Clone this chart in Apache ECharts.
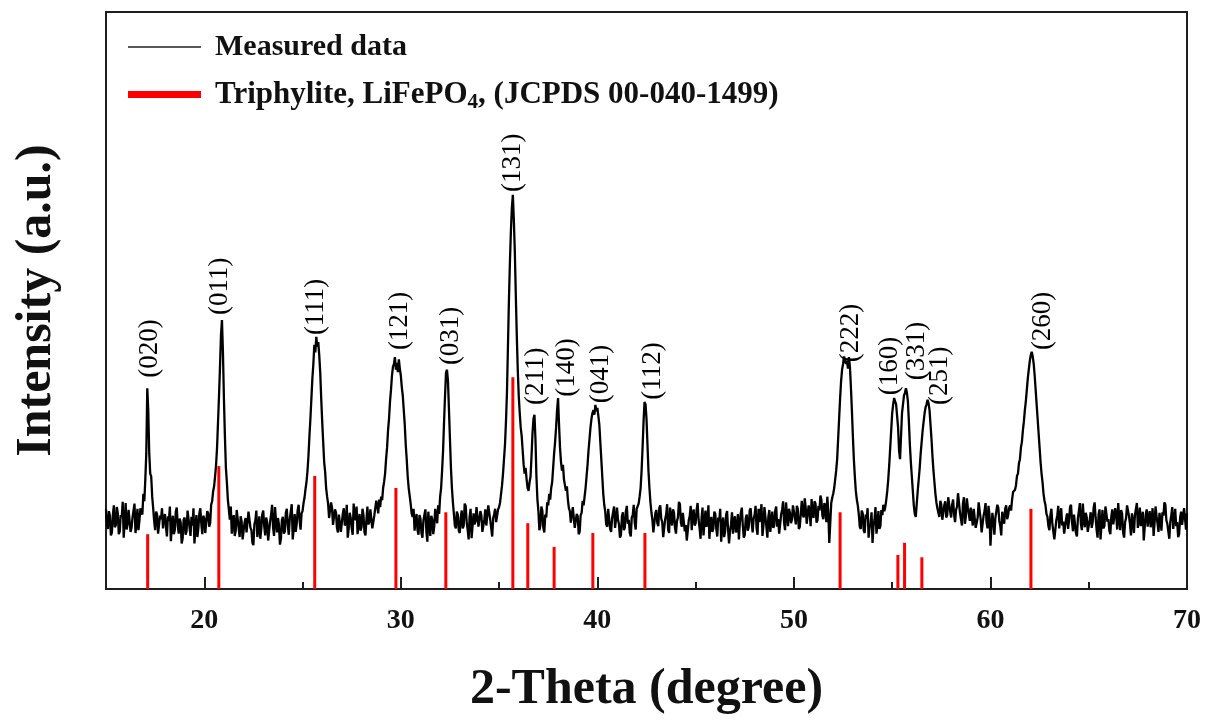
<!DOCTYPE html>
<html>
<head>
<meta charset="utf-8">
<script src="https://cdn.jsdelivr.net/npm/echarts@6/dist/echarts.min.js"></script>
<style>
html,body{margin:0;padding:0;background:#fff;}
#chart{width:1206px;height:720px;}
</style>
</head>
<body>
<div id="chart"></div>
<script>
// ---- data ----
const thetaStart = 15.0;
const thetaStep = 0.05;
// measured intensity (a.u.), 15.00 .. 70.00 deg, step 0.05 (20 values per degree)
const intensity = [
  13.8,11.2,10.4,13.5,12.6,9.3,9.8,12.9,14.5,10.7,11.1,14.2,13.2,9.5,10.0,12.8,12.4,15.1,8.9,11.6,          // 15
  14.9,10.3,11.3,13.7,13.5,9.9,10.6,12.4,12.2,14.8,9.7,11.5,13.9,10.2,11.8,14.0,14.2,12.9,16.5,15.2,         // 16
  19.0,23.5,34.8,31.0,23.5,20.0,19.5,16.0,14.0,11.8,10.2,13.4,12.9,9.6,9.4,12.7,12.1,14.0,10.5,12.3,         // 17
  13.0,10.8,9.1,12.6,11.8,14.3,8.3,10.9,12.7,9.5,10.2,13.4,14.1,11.0,9.6,12.2,11.5,7.9,8.8,12.0,             // 18
  12.4,9.4,10.0,13.6,13.3,10.7,9.2,12.5,11.0,14.0,7.9,10.6,12.8,9.0,10.6,13.1,14.0,11.3,9.5,12.7,            // 19
  12.2,9.7,9.9,13.5,13.1,10.8,11.4,14.6,15.2,16.9,17.8,19.5,21.5,24.5,29.0,33.5,38.5,44.0,46.6,41.0,         // 20
  33.0,26.5,21.0,18.5,15.5,13.8,12.0,14.3,9.6,11.9,12.8,9.2,10.1,13.7,13.4,10.5,9.0,12.6,11.7,8.6,           // 21
  8.4,11.5,12.3,9.8,9.5,13.4,13.1,10.6,10.2,8.0,7.6,11.2,11.9,13.6,9.0,10.3,12.6,8.7,10.4,12.9,              // 22
  13.6,10.9,9.3,12.4,11.5,8.4,8.1,11.7,12.9,14.6,10.7,9.2,14.2,11.8,9.8,12.3,11.1,7.7,8.7,12.0,             // 23
  12.5,9.6,10.0,13.2,13.9,11.0,9.4,12.1,11.8,14.7,8.6,10.4,13.0,9.9,11.2,13.6,14.6,11.9,10.3,13.1,          // 24
  13.5,14.9,15.8,17.3,18.5,20.4,23.0,26.5,29.5,33.0,36.5,39.0,42.3,41.0,43.7,42.0,42.8,40.5,37.5,33.0,      // 25
  29.0,25.5,22.0,20.3,17.5,16.0,14.8,12.3,12.2,15.0,14.1,11.1,10.9,13.8,13.3,10.6,9.8,12.9,12.6,9.9,        // 26
  10.2,13.1,14.0,11.0,11.4,14.6,8.9,10.5,13.2,12.3,10.6,9.4,14.8,12.7,11.9,14.3,9.5,11.4,13.0,10.1,         // 27
  10.7,13.9,12.8,9.9,9.3,12.0,14.3,11.2,11.6,13.8,13.5,10.5,10.4,12.7,13.0,15.3,14.4,13.1,15.5,14.2,        // 28
  16.0,15.4,17.5,18.6,20.0,22.5,24.5,27.5,29.5,32.5,34.5,37.0,38.5,39.0,40.2,38.0,39.2,37.6,39.8,38.2,      // 29
  37.0,35.0,33.5,31.0,28.5,25.0,22.5,19.5,17.5,16.2,14.8,13.1,12.5,13.9,10.1,11.9,13.0,10.2,9.4,12.8,       // 30
  12.2,9.7,8.9,11.9,11.6,13.8,10.0,8.2,13.4,11.1,9.2,12.7,12.0,9.5,10.8,13.9,13.6,11.4,14.5,13.0,           // 31
  16.0,17.5,20.5,24.0,29.0,33.5,37.5,38.0,36.0,31.0,26.0,21.0,17.5,15.0,13.0,11.0,10.5,13.4,12.9,10.1,      // 32
  9.7,12.4,13.6,10.5,11.0,14.8,14.4,11.6,10.3,8.6,12.5,13.9,8.8,10.9,13.1,11.2,11.7,14.2,14.0,10.8,         // 33
  10.9,13.5,12.7,9.9,9.6,12.1,13.8,11.0,11.3,14.5,14.6,12.0,10.5,9.1,12.3,13.0,13.9,11.6,11.4,13.8,         // 34
  14.2,15.0,16.5,18.0,20.0,22.5,25.0,29.0,34.0,42.0,50.0,56.5,62.0,66.0,68.3,64.0,58.5,51.0,44.0,38.0,      // 35
  33.5,30.5,28.0,26.5,24.0,21.5,20.0,21.0,19.0,17.5,17.0,18.5,19.5,23.0,27.0,29.5,30.2,26.0,19.5,15.5,      // 36
  13.5,10.2,11.0,14.3,13.6,10.6,9.8,12.9,12.4,15.0,14.5,16.5,15.5,17.5,18.5,21.0,23.5,25.5,28.0,31.0,       // 37
  33.1,28.5,24.5,22.0,20.5,21.5,19.0,18.0,17.0,17.8,15.5,14.0,13.5,11.5,11.2,14.2,13.9,10.6,10.3,13.0,      // 38
  12.6,9.5,9.9,12.8,13.2,15.3,14.5,16.0,17.5,19.5,21.5,24.0,26.0,28.0,29.5,30.5,31.0,30.2,31.9,30.8,        // 39
  31.4,30.0,28.5,25.5,22.5,19.5,16.5,14.6,13.4,11.2,10.8,13.9,13.7,10.4,9.9,12.3,12.5,14.3,10.6,12.1,       // 40
  14.1,12.0,11.2,8.9,9.4,12.6,13.3,10.2,10.7,13.5,14.4,11.3,12.0,9.7,9.1,12.4,12.8,14.6,11.5,10.3,          // 41
  13.9,14.0,14.8,16.0,17.5,20.5,24.5,29.0,32.4,32.0,29.5,25.0,20.5,17.5,15.0,13.3,12.0,9.8,10.0,13.1,       // 42
  13.7,11.4,10.9,14.0,14.5,12.2,11.6,9.0,8.8,12.1,12.9,14.7,10.3,9.7,14.1,12.5,11.0,13.8,13.2,10.6,         // 43
  9.6,11.8,12.4,15.1,14.7,11.5,10.8,13.2,13.5,10.0,11.1,8.4,8.5,11.9,12.7,14.4,10.2,12.9,13.8,11.0,         // 44
  11.4,13.7,14.9,12.0,10.6,8.7,12.2,14.1,9.3,11.5,13.6,10.8,11.8,14.5,8.7,11.3,12.5,9.9,10.4,13.4,          // 45
  13.0,10.5,9.1,12.4,11.7,13.9,8.2,10.8,12.4,9.0,10.0,12.8,13.5,10.3,7.9,10.1,11.2,13.3,9.6,12.0,           // 46
  12.6,9.8,10.3,13.0,8.6,11.4,13.2,14.1,11.0,8.9,9.4,12.3,12.9,10.1,10.7,13.6,14.0,11.5,9.8,12.2,           // 47
  12.8,14.4,10.5,9.4,13.9,11.6,11.3,14.7,9.2,11.0,14.2,12.5,10.8,8.9,12.5,13.7,9.9,11.8,13.4,10.6,          // 48
  11.0,13.6,14.3,10.8,12.1,9.6,9.8,12.9,13.7,15.2,11.5,10.2,15.0,12.7,10.9,13.9,13.2,11.4,12.0,14.5,        // 49
  14.6,12.3,11.2,14.4,13.9,10.4,10.8,13.0,15.3,12.9,12.4,15.7,14.1,11.3,11.6,14.5,13.4,10.9,15.6,13.1,      // 50
  12.3,15.2,14.8,11.5,11.9,14.4,13.6,16.2,15.4,12.7,12.1,14.9,14.2,11.6,16.0,13.3,8.0,11.5,14.9,15.8,       // 51
  16.5,17.5,19.0,20.5,22.5,26.0,29.5,33.0,36.0,38.0,39.0,40.3,40.6,39.0,39.5,38.2,40.2,38.5,35.0,31.0,      // 52
  26.5,22.5,19.5,17.0,15.5,14.5,13.0,10.8,10.4,13.6,13.1,10.2,9.7,12.9,12.2,14.0,8.9,10.7,11.4,13.3,        // 53
  8.0,10.9,12.0,14.2,9.6,11.1,13.5,10.4,10.9,13.7,12.8,14.6,13.5,14.2,15.5,17.0,19.0,21.5,24.5,27.5,        // 54
  30.5,32.0,33.1,32.5,32.0,30.0,28.0,24.0,22.5,26.5,30.5,32.0,33.5,34.0,34.8,34.0,32.5,29.0,25.0,22.0,      // 55
  19.5,17.0,14.5,13.0,12.5,14.8,17.0,19.0,21.0,23.5,25.5,27.5,29.0,30.5,31.5,32.0,32.8,32.2,31.0,28.5,      // 56
  26.0,23.0,20.5,18.5,16.5,15.0,14.0,13.2,12.5,15.3,14.6,12.0,11.7,14.5,15.2,12.4,12.8,15.9,16.1,13.4,      // 57
  12.4,14.6,15.5,12.9,11.6,13.7,14.3,16.6,16.4,13.2,12.9,11.0,14.8,15.9,11.3,12.6,15.7,14.1,13.0,11.8,      // 58
  14.1,12.6,11.0,13.9,13.8,10.6,10.4,12.4,15.0,13.6,12.2,9.8,9.9,12.7,13.5,14.9,11.6,10.5,14.4,12.9,        // 59
  7.5,10.8,13.2,11.5,9.4,12.3,12.6,14.6,14.1,11.8,10.9,9.3,13.4,12.2,11.3,13.9,14.5,12.1,12.8,14.0,         // 60
  14.5,13.6,15.5,16.8,16.5,17.2,18.0,19.6,20.0,21.8,22.5,24.5,25.5,27.5,29.0,31.0,32.5,34.5,36.5,38.0,      // 61
  39.5,40.5,41.1,40.3,39.0,37.0,34.5,32.0,29.5,27.0,24.5,22.0,20.0,18.5,16.5,15.3,14.5,13.0,12.5,10.9,      // 62
  10.2,12.8,13.9,11.3,11.1,8.6,8.8,11.9,12.7,14.4,10.5,12.6,14.0,11.0,11.7,9.6,9.3,12.2,13.1,10.4,          // 63
  11.9,14.2,14.6,11.6,10.0,12.9,12.8,9.7,9.1,12.3,13.6,14.9,11.3,10.2,14.8,12.1,10.7,13.2,12.4,9.9,         // 64
  9.8,12.0,13.3,10.6,11.5,14.1,15.0,12.4,10.3,8.9,12.9,13.8,8.6,11.2,13.7,10.5,11.0,14.3,14.2,11.7,         // 65
  12.1,10.1,9.5,12.6,13.8,11.2,10.9,14.0,12.6,10.3,14.9,12.4,10.2,13.7,13.0,9.8,8.9,11.6,12.3,14.5,         // 66
  14.4,12.6,11.2,9.3,13.1,11.7,9.7,12.8,12.5,14.9,10.6,12.0,14.1,10.9,11.8,13.4,8.4,10.7,12.9,13.8,         // 67
  10.8,12.4,13.5,10.7,12.0,14.0,9.2,11.5,14.3,12.6,11.4,9.9,13.2,11.8,10.1,13.3,12.7,15.0,14.6,11.9,        // 68
  11.3,10.0,8.7,11.6,12.8,14.2,10.4,12.1,13.9,10.9,11.6,9.0,9.5,12.4,13.4,11.1,10.8,14.0,12.2,10.3,         // 69
  13.1                                                                                                       // 70
];
// JCPDS 00-040-1499 reference lines
const refPos = [17.12, 20.74, 25.62, 29.75, 32.29, 35.70, 36.46, 37.80, 39.77, 42.42, 52.35, 55.29, 55.63, 56.51, 62.06];
const refInt = [9.5, 21.3, 19.6, 17.5, 13.3, 36.7, 11.4, 7.3, 9.7, 9.7, 13.3, 5.9, 8.0, 5.5, 13.9];
// hkl labels (x position, bottom of label)
const hklNames = ['(020)','(011)','(111)','(121)','(031)','(131)','(211)','(140)','(041)','(112)','(222)','(160)','(331)','(251)','(260)'];
const hklX = [17.22, 20.82, 25.68, 29.95, 32.55, 35.70, 36.87, 38.45, 40.18, 42.82, 52.90, 54.90, 56.25, 57.42, 62.66];
const hklY = [36.6, 47.5, 44.0, 41.4, 38.8, 68.8, 31.9, 33.3, 32.2, 32.8, 39.3, 33.6, 36.2, 31.9, 41.4];
const xMajorTicks = [20, 30, 40, 50, 60, 70];
const xMinorTicks = [25, 35, 45, 55, 65];
const seriesNames = ['Measured data', 'Triphylite, LiFePO4, (JCPDS 00-040-1499)'];

// ---- build ----
const measured = intensity.map((v, i) => [+(thetaStart + i * thetaStep).toFixed(2), v]);
const refData = refPos.map((p, i) => [p, refInt[i]]);
const hklData = hklX.map((x, i) => [x, hklY[i], hklNames[i]]);

const SERIF = '"Liberation Serif","Times New Roman",serif';

const chart = echarts.init(document.getElementById('chart'), null, {renderer: 'canvas'});
chart.setOption({
  animation: false,
  backgroundColor: '#fff',
  grid: {left: 106, right: 19, top: 12, bottom: 131, show: true, borderColor: '#1e1e1e', borderWidth: 2, containLabel: false},
  legend: {
    orient: 'vertical', left: 128, top: 32, padding: 0, itemGap: 14,
    itemWidth: 73, itemHeight: 7, selectedMode: false,
    data: [
      {name: seriesNames[0], icon: 'path://M0,0 L100,0 L100,2 L0,2 Z', itemStyle: {color: '#222'}},
      {name: seriesNames[1], icon: 'rect', itemStyle: {color: '#ff0000'}}
    ],
    formatter: function (n) {
      if (n === seriesNames[1]) return '{c|Triphylite, LiFePO}{sub|4}{c|, (JCPDS 00-040-1499)}';
      return '{b|' + n + '}';
    },
    textStyle: {
      fontFamily: SERIF, fontWeight: 'bold', fontSize: 30, color: '#111', lineHeight: 30, padding: [0, 0, 0, 9],
      rich: {
        b: {fontFamily: SERIF, fontWeight: 'bold', fontSize: 30, color: '#111', lineHeight: 30},
        c: {fontFamily: SERIF, fontWeight: 'bold', fontSize: 31, color: '#111', lineHeight: 30},
        sub: {fontFamily: SERIF, fontWeight: 'bold', fontSize: 21, color: '#111', lineHeight: 18, padding: [16, 0, 0, 0]}
      }
    }
  },
  xAxis: [{
    type: 'value', min: 15, max: 70, interval: 5, gridIndex: 0, position: 'bottom',
    name: '2-Theta (degree)', nameLocation: 'middle', nameGap: 76,
    nameTextStyle: {fontFamily: SERIF, fontWeight: 'bold', fontSize: 50, color: '#111'},
    axisLine: {show: true, lineStyle: {color: '#1e1e1e', width: 2}},
    axisTick: {show: true, inside: true, length: 12, lineStyle: {color: '#1e1e1e', width: 2}, customValues: xMajorTicks},
    axisLabel: {show: true, margin: 18, fontFamily: SERIF, fontWeight: 'bold', fontSize: 28, color: '#111', customValues: xMajorTicks},
    splitLine: {show: false}
  }, {
    type: 'value', min: 15, max: 70, interval: 5, gridIndex: 0, position: 'bottom',
    axisLine: {show: false},
    axisTick: {show: true, inside: true, length: 7, lineStyle: {color: '#1e1e1e', width: 2}, customValues: xMinorTicks},
    axisLabel: {show: false},
    splitLine: {show: false}
  }],
  yAxis: {
    type: 'value', min: 0, max: 100,
    name: 'Intensity (a.u.)', nameLocation: 'middle', nameGap: 44,
    nameTextStyle: {fontFamily: SERIF, fontWeight: 'bold', fontSize: 50, color: '#111'},
    axisLine: {show: false}, axisTick: {show: false}, axisLabel: {show: false}, splitLine: {show: false}
  },
  series: [{
    name: seriesNames[0], type: 'line', data: measured, symbol: 'none', z: 2,
    lineStyle: {color: '#000', width: 2.3}, itemStyle: {color: '#222'}
  }, {
    name: seriesNames[1], type: 'bar', data: refData, barWidth: 3, z: 3,
    itemStyle: {color: '#ff0000'}
  }, {
    name: 'hkl', type: 'scatter', data: hklData, symbolSize: 0, z: 4, silent: true,
    itemStyle: {opacity: 1},
    label: {
      show: true, position: 'inside', rotate: 90, align: 'left', verticalAlign: 'middle',
      formatter: p => p.data[2], opacity: 1,
      fontFamily: SERIF, fontSize: 27, color: '#000', textBorderWidth: 0
    }
  }]
});
</script>
</body>
</html>
